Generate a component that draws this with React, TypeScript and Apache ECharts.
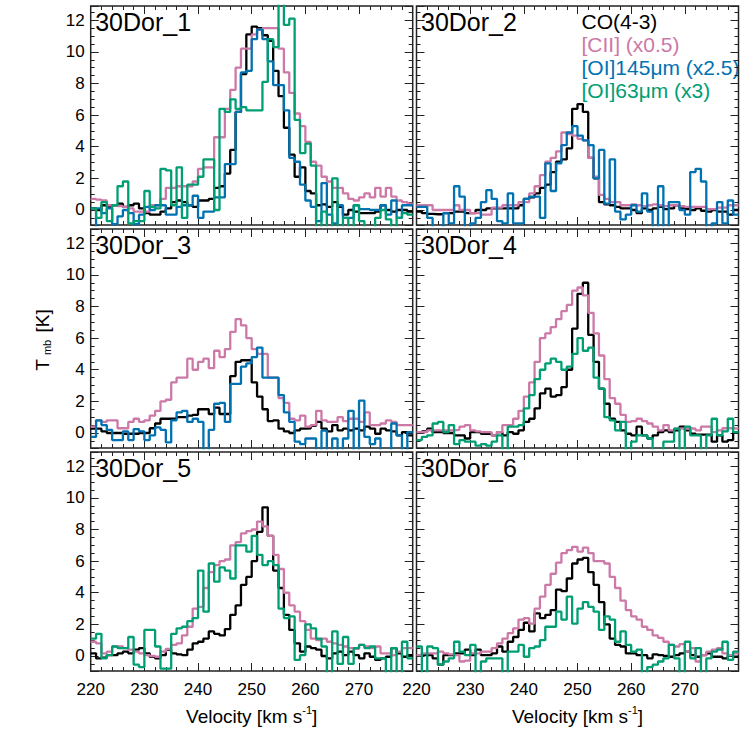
import React, { useEffect, useRef } from "react";
import * as echarts from "echarts";

const FONT = "'Liberation Sans', Arial, Helvetica, sans-serif";
const FRAME = "#222222";

// channel grid (km/s)
const CHANNEL_START = 220;
const CHANNEL_WIDTH = 1;
const X_MIN = 220;
const X_MAX = 280;
const Y_MIN = -0.95;
const Y_MAX = 12.9;

const xTickLabels = [220, 230, 240, 250, 260, 270];
const yTickLabels = [0, 2, 4, 6, 8, 10, 12];

const panelNames = ["30Dor_1", "30Dor_2", "30Dor_3", "30Dor_4", "30Dor_5", "30Dor_6"];
const lineNames = ["CO(4-3)", "[CII] (x0.5)", "[OI]145\u03bcm (x2.5)", "[OI]63\u03bcm (x3)"];
const lineColors = ["#000000", "#CC79A7", "#0072B2", "#009E73"];

// ---------- 30Dor_1 ----------
const co1 = [0.1, 0.0, 0.3, 0.2, 0.3, 0.4, 0.2, 0.3, 0.4, 0.1, -0.2, -0.3, -0.3, -0.1, 0.1, 0.5, 0.6, 0.5, 0.3, 0.2, 0.6, 0.6, 0.7, 1.4, 1.5, 2.3, 3.8, 6.2, 8.6, 11.1,
  11.6, 11.5, 11.05, 10.7, 8.8, 7.2, 5.2, 3.5, 2.1, 2.7, 1.2, 1.05, 0.3, 0.35, 0.2, 0.5, 0.2, -0.3, 0.0, -0.1, -0.2, -0.2, -0.2, -0.1, 0.3, 0.0, -0.1, 0.0, 0.0, -0.1];
const cii1 = [0.7, 0.65, 0.6, 0.3, 0.3, 0.25, 0.2, 0.1, -0.1, -0.1, -0.1, 0.3, 0.3, 0.7, 1.4, 1.4, 1.5, 1.5, 1.5, 1.8, 2.6, 2.7, 2.7, 4.6, 4.6, 6.4, 7.6, 9.0, 10.2, 10.2,
  11.1, 11.4, 11.5, 11.5, 11.5, 10.2, 8.7, 7.4, 6.1, 5.3, 4.3, 3.05, 2.8, 2.1, 1.8, 1.4, 1.4, 1.05, 0.7, 0.6, 0.8, 1.05, 0.8, 1.4, 0.85, 1.4, 0.85, 0.6, 0.5, 0.4];
const oi145_1 = [-1.3, 0.1, -0.2, 0.1, -0.9, -0.4, 0.0, -0.2, -0.9, -0.3, 0.2, 0.0, 0.3, 0.3, -0.3, -0.3, 0.2, 0.3, 0.3, 0.9, -0.5, -0.1, -0.1, 0.8, 0.8, 2.9, 2.9, 6.2, 8.7, 8.8,
  10.8, 11.4, 10.8, 9.4, 7.9, 7.9, 6.3, 3.3, 3.05, 1.6, 0.6, 0.2, -0.7, 1.7, -0.3, -0.85, 0.3, -0.5, -0.5, 0.3, 0.05, 0.05, 0.0, 0.0, 0.3, -0.3, 0.6, -0.5, 0.3, 0.3];
const oi63_1 = [0.1, -0.5, 0.5, -0.7, 0.3, 1.5, 1.8, -0.85, -0.7, -0.7, 1.2, 0.2, 0.1, 2.6, 2.5, 0.3, 2.7, -0.5, 1.6, 1.6, 2.1, 3.2, 3.2, 0.0, 6.4, 6.2, 7.0, 6.4, 6.5, 6.3,
  6.3, 6.3, 8.1, 10.8, 10.3, 13.5, 11.7, 12.1, 5.7, 3.6, 4.2, 2.8, -1.3, -0.1, -1.3, 2.0, -1.3, -0.5, -1.3, 0.3, -0.7, -1.3, -1.3, -0.5, 0.0, -0.6, -1.3, -0.5, -0.2, -0.3];

// ---------- 30Dor_2 ----------
const co2 = [-0.1, -0.2, -0.25, -0.27, -0.27, -0.2, -0.2, -0.1, -0.1, -0.2, -0.2, 0.0, 0.0, 0.1, 0.1, 0.1, 0.1, 0.1, 0.1, 0.3, 0.7, 0.8, 1.05, 1.4, 1.6, 2.4, 3.05, 3.2, 3.9, 6.4,
  6.7, 6.2, 3.3, 2.0, 0.5, 0.35, 0.3, 0.2, 0.1, 0.1, 0.0, -0.2, 0.1, 0.0, 0.1, 0.2, 0.05, 0.1, 0.3, 0.1, 0.05, 0.0, 0.1, -0.05, -0.1, 0.0, -0.1, -0.1, -0.3, 0.0];
const cii2 = [0.3, 0.3, 0.3, 0.0, 0.0, 0.0, 0.0, 0.3, 0.0, 0.0, -0.2, -0.2, -0.3, -0.3, 0.15, 0.15, 0.3, 0.3, 0.3, 0.5, 0.5, 1.05, 1.5, 2.2, 3.05, 3.3, 3.7, 4.9, 4.8, 4.7,
  4.5, 4.4, 3.3, 2.1, 0.95, 0.7, 0.5, 0.5, 0.3, 0.3, 0.35, 0.3, 0.25, 0.3, 0.35, 0.3, 0.25, 0.3, 0.3, 0.25, 0.2, 0.2, 0.2, 0.2, 0.05, 0.05, 0.15, 0.15, 0.3, 0.3];
const oi145_2 = [0.2, 0.2, -0.5, -1.3, -1.3, -0.2, -0.85, 1.5, 0.85, -1.3, -0.85, -0.5, 0.5, 1.25, 0.7, -0.7, -0.85, 1.05, -0.85, -0.85, 0.7, 0.85, 0.85, -0.5, 2.95, 1.2, 2.95, 4.1, 4.9, 5.3,
  4.7, 4.4, 4.1, 2.0, 3.8, 0.4, 3.2, -0.1, -0.6, -0.3, 0.3, -0.1, 1.05, -0.1, -1.3, 1.5, -1.3, 0.5, 0.5, 0.0, -0.3, 2.4, 2.6, 1.8, -1.3, -0.85, 0.5, -0.85, 0.6, -0.3];

// ---------- 30Dor_3 ----------
const co3 = [0.27, 0.27, 0.1, 0.0, 0.0, 0.0, -0.05, -0.05, -0.05, 0.0, 0.0, 0.3, 0.6, 0.9, 0.9, 0.9, 1.0, 1.0, 1.1, 1.15, 1.5, 1.5, 1.2, 1.6, 1.2, 1.2, 3.6, 4.5, 4.6, 4.6,
  3.2, 2.3, 1.5, 0.75, 0.8, 0.27, 0.1, 0.0, 0.17, 0.27, 0.3, 0.45, 0.7, 0.27, 0.1, 0.5, 0.17, 0.27, 0.17, 0.27, 0.17, 0.4, 0.27, -0.05, 0.27, 0.17, 0.1, -0.15, 0.05, -0.15];
const cii3 = [0.4, 0.8, 0.7, 0.8, 0.8, 0.3, 0.3, 0.7, 0.9, 0.7, 0.8, 1.1, 1.4, 2.0, 2.1, 3.2, 3.5, 3.5, 4.7, 4.0, 4.5, 4.7, 4.1, 5.2, 4.8, 5.3, 6.4, 7.2, 6.8, 6.0,
  5.3, 5.0, 5.0, 3.5, 3.5, 2.2, 1.9, 0.9, 0.8, 1.1, 0.4, 0.5, 1.4, 0.8, 0.7, 0.7, 1.0, 0.75, 0.9, 0.9, 0.7, 1.3, 0.5, 0.5, 0.6, 0.8, 0.7, 0.5, 0.5, 0.5];
const oi145_3 = [-0.25, 0.8, 0.5, 0.2, -0.45, -0.45, 0.1, -0.45, 0.25, 0.1, -0.45, -0.15, 0.35, 0.2, -0.6, 0.8, 1.3, 1.4, 0.7, 0.9, 0.7, -1.3, 0.2, 1.85, 1.9, 0.7, 3.1, 3.1, 4.2, 4.4,
  4.8, 5.4, 3.5, 3.5, 3.5, 2.4, 1.3, 0.7, -0.55, -0.7, -0.35, -0.35, -1.3, 0.15, -1.3, -0.35, -1.3, -0.35, 1.4, -1.3, 2.05, -0.25, -0.7, -0.35, -1.3, -1.3, 0.6, -0.15, -1.3, 0.05];

// ---------- 30Dor_4 ----------
const co4 = [0.05, 0.1, 0.27, 0.05, 0.05, 0.0, 0.0, -0.15, -0.15, -0.35, 0.05, 0.05, -0.05, -0.05, -0.15, 0.05, -0.15, 0.05, -0.05, 0.17, 0.7, 0.9, 1.55, 2.5, 2.8, 2.3, 2.4, 2.9, 4.0, 6.6,
  8.8, 9.5, 6.2, 4.5, 2.8, 1.85, 0.9, 0.7, 0.17, -0.05, -0.15, 0.4, -0.15, -0.35, -0.15, 0.05, 0.17, 0.05, 0.17, 0.4, 0.17, -0.05, -0.1, -0.1, -0.1, -0.55, -0.15, -0.55, -0.45, 0.05];
const cii4 = [0.05, 0.05, 0.17, 0.17, 0.17, 0.17, 0.17, 0.2, 0.4, 0.5, 0.17, 0.1, 0.05, 0.05, -0.15, 0.05, 0.5, 0.5, 0.9, 1.4, 2.3, 3.2, 4.5, 6.0, 6.3, 6.7, 7.2, 7.7, 8.1, 9.0,
  9.2, 8.7, 7.6, 6.3, 4.9, 3.4, 2.2, 1.85, 1.15, 0.7, 0.75, 0.9, 0.75, 0.6, 0.4, 0.17, 0.5, 0.17, 0.27, 0.27, 0.3, 0.27, 0.17, 0.4, 0.4, 0.05, 0.17, 0.3, 0.3, 0.27];
const oi63_4 = [-0.45, -0.25, -0.15, 0.6, 0.7, 0.05, 0.5, -0.7, -0.45, -0.55, -0.55, -0.8, -0.7, -0.8, -0.55, -0.15, -1.3, 0.4, 0.4, 0.5, 1.55, 2.4, 3.4, 4.0, 4.4, 4.7, 4.5, 4.0, 4.2, 5.0,
  6.0, 5.2, 5.4, 3.5, 2.8, 1.0, 0.8, 0.17, 0.7, -1.3, -0.55, -0.15, -0.15, -0.35, -1.3, -1.3, -0.55, -0.55, 0.27, -1.3, 0.4, -0.15, -0.15, -1.3, -0.15, 0.9, -0.15, 0.1, 0.9, 0.05];

// ---------- 30Dor_5 ----------
const co5 = [0.17, -0.15, -0.1, 0.05, 0.05, 0.17, 0.27, 0.17, 0.4, 0.5, 0.17, -0.05, -0.15, 0.05, 0.4, 0.17, 0.1, 0.05, 0.4, 0.8, 0.9, 1.1, 1.55, 1.4, 1.3, 1.7, 2.6, 3.2, 4.5, 5.0,
  6.0, 7.85, 9.4, 7.6, 5.4, 4.3, 2.6, 1.65, 0.8, 0.27, 0.6, 0.5, 0.4, 0.0, -0.15, 0.17, 0.27, 0.05, 0.27, 0.05, -0.15, 0.17, -0.05, -0.25, -0.15, -0.05, 0.5, 0.17, -0.05, 0.05];
const cii5 = [0.9, 0.8, 0.17, 0.27, 0.6, 0.6, 0.5, 0.4, 0.27, 0.17, 0.05, 0.0, -0.05, 0.27, 0.45, 0.7, 0.8, 1.3, 1.85, 3.0, 3.1, 4.3, 5.3, 5.75, 6.0, 6.1, 7.0, 7.2, 7.75, 7.9,
  8.0, 8.5, 8.2, 7.6, 6.4, 5.5, 4.0, 3.2, 2.8, 2.2, 1.65, 1.1, 1.0, 1.1, 0.9, 0.8, 0.7, 0.6, 0.5, 0.45, 0.7, 0.6, 0.5, 0.6, 0.17, 0.17, 0.05, 0.27, 0.5, 0.5];
const oi63_5 = [1.1, 1.4, -0.15, 0.05, 0.6, 0.5, 0.5, 1.2, -0.55, -0.7, 1.65, 1.65, 0.6, -0.8, -0.8, 1.4, 1.75, 1.85, 2.2, 2.4, 5.4, 2.8, 5.85, 4.7, 5.6, 5.4, 4.9, 7.0, 7.0, 6.6,
  7.6, 6.4, 5.75, 6.0, 5.75, 3.0, 2.4, 2.5, -0.25, 0.05, 2.0, 1.75, 1.1, 0.6, -1.3, 1.55, -0.5, 1.2, -0.5, 0.5, 0.7, 0.5, 0.6, -0.15, -0.15, -1.3, 0.5, -1.3, 0.9, -0.15];

// ---------- 30Dor_6 ----------
const co6 = [0.05, 0.05, 0.05, -0.15, -0.55, 0.05, 0.05, 0.17, 0.17, 0.4, 0.05, 0.4, 0.05, 0.05, 0.17, 0.6, 0.27, 0.9, 1.2, 1.65, 2.1, 1.55, 2.7, 2.4, 2.6, 2.9, 4.2, 4.1, 4.9, 5.85,
  6.1, 6.2, 5.3, 4.5, 3.4, 2.0, 1.1, 0.7, 0.6, 0.17, 0.17, 0.05, 0.05, -0.15, 0.1, 0.05, 0.0, -0.05, 0.05, 0.17, 0.27, 0.05, -0.05, 0.05, 0.17, -0.05, -0.05, -0.15, 0.02, -0.05];
const cii6 = [0.05, 0.17, 0.17, 0.17, 0.27, 0.17, 0.1, 0.05, -0.35, -0.3, 0.17, 0.17, 0.27, 0.27, 0.5, 0.8, 1.1, 1.45, 1.75, 2.3, 2.4, 2.05, 3.0, 3.75, 4.5, 5.2, 5.9, 6.5, 6.7, 6.9,
  6.6, 6.85, 6.5, 6.0, 6.0, 5.85, 5.0, 4.3, 3.5, 2.9, 2.5, 2.3, 1.85, 1.65, 1.3, 1.15, 0.9, 0.7, 0.6, 0.75, 0.27, 0.5, -0.35, 0.05, 0.27, 0.4, 0.5, 0.17, 0.05, 0.17];
const oi63_6 = [0.6, -1.3, 0.6, 0.5, -0.55, -0.35, -0.15, 0.9, 0.27, 0.05, 0.7, -1.3, -0.35, -0.15, -0.15, -0.15, -1.3, 0.27, 0.27, 0.7, -0.05, 0.5, 0.6, 1.0, 1.85, 1.85, 2.8, 2.3, 3.75, 2.05,
  3.0, 3.4, 3.1, 2.8, 1.65, 2.5, 2.3, 0.9, 1.55, 0.7, 0.27, 0.4, -1.3, -0.7, -0.55, -0.35, -0.15, 0.7, -0.15, -1.3, 0.9, -0.15, 0.5, -1.3, -0.15, 0.27, 0.4, 0.9, -0.25, 0.27];

// order per panel: CO, CII, OI145, OI63 (null = not observed)
const panelSeries: (number[] | null)[][] = [
  [co1, cii1, oi145_1, oi63_1],
  [co2, cii2, oi145_2, null],
  [co3, cii3, oi145_3, null],
  [co4, cii4, null, oi63_4],
  [co5, cii5, null, oi63_5],
  [co6, cii6, null, oi63_6],
];

// layout (pixels)
const GRID_LEFT = [90.7, 416.5];
const GRID_TOP = [6, 229, 452];
const GRID_W = 322;
const GRID_H = 219;

function histogramPoints(vals: number[]) {
  const pts: number[][] = vals.map((v, i) => [CHANNEL_START + i * CHANNEL_WIDTH, v]);
  pts.push([CHANNEL_START + vals.length * CHANNEL_WIDTH, vals[vals.length - 1]]);
  return pts;
}

function buildOption() {
  const grid: any[] = [];
  const xAxis: any[] = [];
  const yAxis: any[] = [];
  const series: any[] = [];
  const graphic: any[] = [];
  const tickStyle = { color: FRAME, width: 1 };

  for (let p = 0; p < 6; p++) {
    const row = Math.floor(p / 2);
    const col = p % 2;
    grid.push({
      left: GRID_LEFT[col],
      top: GRID_TOP[row],
      width: GRID_W,
      height: GRID_H,
      show: true,
      borderColor: FRAME,
      borderWidth: 1.5,
      backgroundColor: "rgba(0,0,0,0)",
    });
    for (const pos of ["bottom", "top"]) {
      xAxis.push({
        gridIndex: p,
        type: "value",
        position: pos,
        min: X_MIN,
        max: X_MAX,
        interval: 10,
        axisLine: { show: false, onZero: false },
        axisTick: { show: true, inside: true, length: 8, lineStyle: tickStyle },
        minorTick: { show: true, splitNumber: 5, length: 4, lineStyle: tickStyle },
        splitLine: { show: false },
        minorSplitLine: { show: false },
        axisLabel: {
          show: pos === "bottom" && row === 2,
          margin: 10,
          fontSize: 17,
          color: "#000",
          fontFamily: FONT,
          formatter: (v: number) => (xTickLabels.indexOf(v) >= 0 ? String(v) : ""),
        },
      });
    }
    for (const pos of ["left", "right"]) {
      yAxis.push({
        gridIndex: p,
        type: "value",
        position: pos,
        min: Y_MIN,
        max: Y_MAX,
        splitNumber: 7,
        minInterval: 2,
        maxInterval: 2,
        axisLine: { show: false, onZero: false },
        axisTick: { show: true, inside: true, length: 8, lineStyle: tickStyle },
        splitLine: { show: false },
        axisLabel: {
          show: pos === "left" && col === 0,
          margin: 6,
          fontSize: 17,
          color: "#000",
          fontFamily: FONT,
          formatter: (v: number) => {
            const r = Math.round(v);
            return Math.abs(v - r) < 1e-6 && yTickLabels.indexOf(r) >= 0 ? String(r) : "";
          },
        },
      });
      yAxis.push({
        gridIndex: p,
        type: "value",
        position: pos,
        min: Y_MIN,
        max: Y_MAX,
        splitNumber: 28,
        minInterval: 0.5,
        maxInterval: 0.5,
        axisLine: { show: false, onZero: false },
        axisTick: { show: true, inside: true, length: 4, lineStyle: tickStyle },
        splitLine: { show: false },
        axisLabel: { show: false },
      });
    }

    panelSeries[p].forEach((vals, k) => {
      if (!vals) return;
      series.push({
        type: "line",
        name: lineNames[k],
        xAxisIndex: 2 * p,
        yAxisIndex: 4 * p,
        data: histogramPoints(vals),
        step: "end",
        showSymbol: false,
        symbol: "none",
        silent: true,
        clip: true,
        z: 2 + k,
        lineStyle: { color: lineColors[k], width: 2.3 },
      });
    });

    graphic.push({
      type: "text",
      left: GRID_LEFT[col] + 4.5,
      top: GRID_TOP[row] + 3,
      silent: true,
      style: { text: panelNames[p], fontSize: 25, fontFamily: FONT, fill: "#000" },
    });
  }

  // legend in panel 2
  lineNames.forEach((name, k) => {
    graphic.push({
      type: "text",
      x: 581.5,
      y: 21.5 + k * 23,
      silent: true,
      style: { text: name, fontSize: 21, fontFamily: FONT, fill: lineColors[k], verticalAlign: "middle", align: "left" },
    });
  });

  // x axis titles
  for (let c = 0; c < 2; c++) {
    graphic.push({
      type: "text",
      x: GRID_LEFT[c] + GRID_W / 2,
      y: 715,
      silent: true,
      style: {
        text: "{t|Velocity [km s}{u|-1}{t|]}",
        align: "center",
        verticalAlign: "middle",
        rich: {
          t: { fontSize: 19, fontFamily: FONT, fill: "#000", lineHeight: 22, verticalAlign: "bottom" },
          u: { fontSize: 11, fontFamily: FONT, fill: "#000", lineHeight: 11, verticalAlign: "top" },
        },
      },
    });
  }

  // y axis title
  graphic.push({
    type: "text",
    x: 40,
    y: 340,
    rotation: Math.PI / 2,
    silent: true,
    style: {
      text: "{t|T}{s|mb}{t| [K]}",
      align: "center",
      verticalAlign: "middle",
      rich: {
        t: { fontSize: 19, fontFamily: FONT, fill: "#000", lineHeight: 24, verticalAlign: "bottom" },
        s: { fontSize: 11, fontFamily: FONT, fill: "#000", lineHeight: 11, verticalAlign: "bottom", padding: [0, 2, 0, 4] },
      },
    },
  });

  return {
    animation: false,
    backgroundColor: "#ffffff",
    textStyle: { fontFamily: FONT },
    grid,
    xAxis,
    yAxis,
    series,
    graphic,
  };
}

export default function App() {
  const ref = useRef<HTMLDivElement>(null);
  useEffect(() => {
    if (!ref.current) return;
    const chart = echarts.init(ref.current, undefined, { renderer: "svg" });
    chart.setOption(buildOption() as any);
    return () => chart.dispose();
  }, []);
  return (
    <div
      ref={ref}
      style={{ position: "absolute", left: 0, top: 0, width: 747, height: 747, background: "#fff" }}
    />
  );
}
